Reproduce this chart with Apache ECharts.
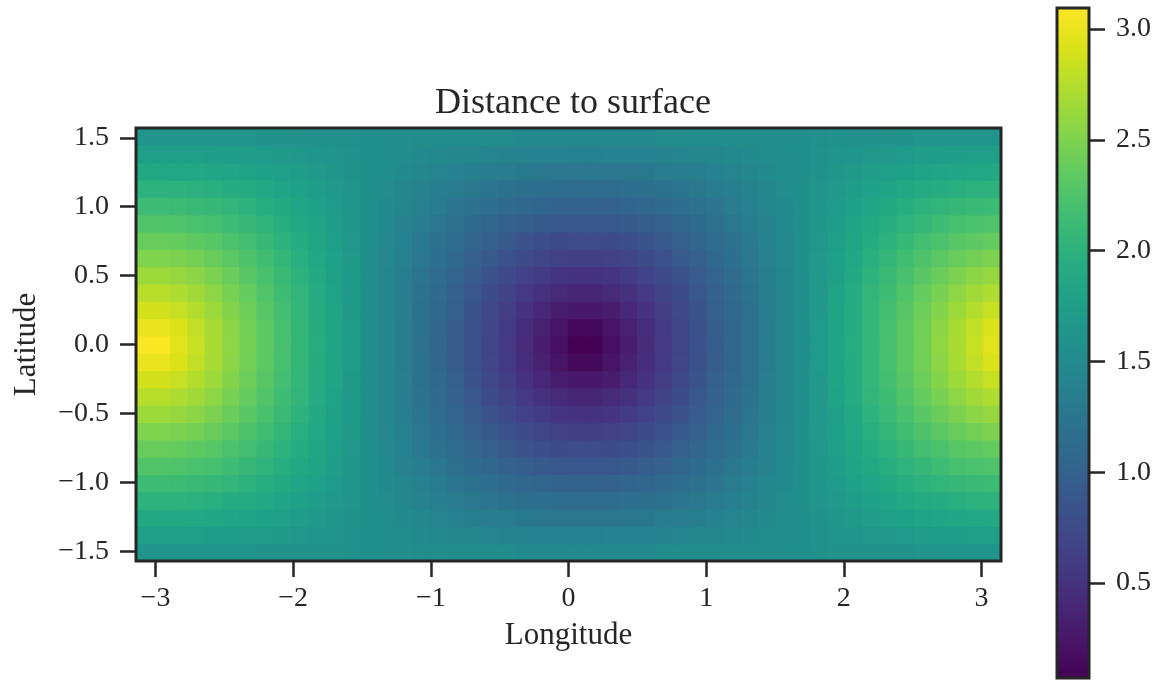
<!DOCTYPE html>
<html>
<head>
<meta charset="utf-8">
<script src="https://cdn.jsdelivr.net/npm/echarts@6/dist/echarts.min.js"></script>
<style>
html,body{margin:0;padding:0;background:#ffffff;}
#chart{width:1162px;height:681px;}
</style>
</head>
<body>
<div id="chart"></div>
<script>
// ---- data ----
const lonCells = [-3.079,-2.953,-2.827,-2.702,-2.576,-2.450,-2.325,-2.199,-2.073,-1.948,-1.822,-1.696,-1.571,-1.445,-1.319,-1.194,-1.068,-0.942,-0.817,-0.691,-0.565,-0.440,-0.314,-0.188,-0.063,0.063,0.188,0.314,0.440,0.565,0.691,0.817,0.942,1.068,1.194,1.319,1.445,1.571,1.696,1.822,1.948,2.073,2.199,2.325,2.450,2.576,2.702,2.827,2.953,3.079];
const latCells = [-1.508,-1.382,-1.257,-1.131,-1.005,-0.880,-0.754,-0.628,-0.503,-0.377,-0.251,-0.126,0,0.126,0.251,0.377,0.503,0.628,0.754,0.880,1.005,1.131,1.257,1.382,1.508];

const lonTicks = [-3,-2,-1,0,1,2,3];
const latTicks = [-1.5,-1,-0.5,0,0.5,1,1.5];
const cbarTicks = [0.5,1,1.5,2,2.5,3];
const colorRange = [0.072, 3.095];

// distance values per latitude band (|lat| index 0 = equator ... 12 = near pole)
const lat0  = [3.08,3.08,2.95,2.83,2.70,2.58,2.45,2.32,2.20,2.07,1.95,1.82,1.70,1.57,1.45,1.32,1.19,1.07,0.94,0.82,0.69,0.57,0.44,0.31,0.19,0.06,0.06,0.19,0.31,0.44,0.57,0.69,0.82,0.94,1.07,1.19,1.32,1.45,1.57,1.70,1.82,1.95,2.07,2.20,2.32,2.45,2.58,2.70,2.83,2.95];
const lat1  = [3.00,3.00,2.92,2.80,2.69,2.56,2.44,2.32,2.19,2.07,1.94,1.82,1.70,1.57,1.45,1.32,1.20,1.07,0.95,0.82,0.70,0.58,0.46,0.34,0.23,0.14,0.14,0.23,0.34,0.46,0.58,0.70,0.82,0.95,1.07,1.20,1.32,1.45,1.57,1.70,1.82,1.94,2.07,2.19,2.32,2.44,2.56,2.69,2.80,2.92];
const lat2  = [2.88,2.88,2.83,2.74,2.64,2.53,2.41,2.30,2.18,2.06,1.94,1.81,1.69,1.57,1.45,1.33,1.21,1.09,0.97,0.85,0.73,0.61,0.50,0.40,0.31,0.26,0.26,0.31,0.40,0.50,0.61,0.73,0.85,0.97,1.09,1.21,1.33,1.45,1.57,1.69,1.81,1.94,2.06,2.18,2.30,2.41,2.53,2.64,2.74,2.83];
const lat3  = [2.76,2.76,2.72,2.66,2.57,2.47,2.37,2.26,2.15,2.04,1.92,1.80,1.69,1.57,1.45,1.34,1.22,1.11,0.99,0.88,0.77,0.67,0.57,0.49,0.42,0.38,0.38,0.42,0.49,0.57,0.67,0.77,0.88,0.99,1.11,1.22,1.34,1.45,1.57,1.69,1.80,1.92,2.04,2.15,2.26,2.37,2.47,2.57,2.66,2.72];
const lat4  = [2.64,2.64,2.61,2.56,2.49,2.40,2.31,2.21,2.11,2.01,1.90,1.79,1.68,1.57,1.46,1.35,1.24,1.13,1.03,0.93,0.83,0.74,0.66,0.59,0.53,0.51,0.51,0.53,0.59,0.66,0.74,0.83,0.93,1.03,1.13,1.24,1.35,1.46,1.57,1.68,1.79,1.90,2.01,2.11,2.21,2.31,2.40,2.49,2.56,2.61];
const lat5  = [2.51,2.51,2.49,2.45,2.39,2.32,2.24,2.16,2.07,1.97,1.87,1.77,1.67,1.57,1.47,1.37,1.27,1.17,1.08,0.98,0.90,0.82,0.75,0.69,0.65,0.63,0.63,0.65,0.69,0.75,0.82,0.90,0.98,1.08,1.17,1.27,1.37,1.47,1.57,1.67,1.77,1.87,1.97,2.07,2.16,2.24,2.32,2.39,2.45,2.49];
const lat6  = [2.39,2.39,2.37,2.34,2.29,2.23,2.17,2.09,2.01,1.93,1.84,1.75,1.66,1.57,1.48,1.39,1.30,1.21,1.13,1.05,0.97,0.91,0.85,0.80,0.77,0.76,0.76,0.77,0.80,0.85,0.91,0.97,1.05,1.13,1.21,1.30,1.39,1.48,1.57,1.66,1.75,1.84,1.93,2.01,2.09,2.17,2.23,2.29,2.34,2.37];
const lat7  = [2.26,2.26,2.25,2.22,2.19,2.14,2.08,2.02,1.95,1.88,1.81,1.73,1.65,1.57,1.49,1.41,1.33,1.26,1.19,1.12,1.06,1.00,0.96,0.92,0.89,0.88,0.88,0.89,0.92,0.96,1.00,1.06,1.12,1.19,1.26,1.33,1.41,1.49,1.57,1.65,1.73,1.81,1.88,1.95,2.02,2.08,2.14,2.19,2.22,2.25];
const lat8  = [2.14,2.14,2.13,2.11,2.08,2.04,2.00,1.95,1.89,1.83,1.77,1.70,1.64,1.57,1.50,1.44,1.37,1.31,1.25,1.20,1.15,1.10,1.06,1.04,1.02,1.01,1.01,1.02,1.04,1.06,1.10,1.15,1.20,1.25,1.31,1.37,1.44,1.50,1.57,1.64,1.70,1.77,1.83,1.89,1.95,2.00,2.04,2.08,2.11,2.13];
const lat9  = [2.01,2.01,2.00,1.99,1.97,1.94,1.91,1.87,1.82,1.78,1.73,1.68,1.62,1.57,1.52,1.46,1.41,1.36,1.32,1.28,1.24,1.20,1.18,1.15,1.14,1.13,1.13,1.14,1.15,1.18,1.20,1.24,1.28,1.32,1.36,1.41,1.46,1.52,1.57,1.62,1.68,1.73,1.78,1.82,1.87,1.91,1.94,1.97,1.99,2.00];
const lat10 = [1.88,1.88,1.88,1.87,1.85,1.83,1.81,1.78,1.75,1.72,1.68,1.65,1.61,1.57,1.53,1.49,1.46,1.42,1.39,1.36,1.33,1.31,1.29,1.27,1.26,1.26,1.26,1.26,1.27,1.29,1.31,1.33,1.36,1.39,1.42,1.46,1.49,1.53,1.57,1.61,1.65,1.68,1.72,1.75,1.78,1.81,1.83,1.85,1.87,1.88];
const lat11 = [1.76,1.76,1.76,1.75,1.74,1.73,1.72,1.70,1.68,1.66,1.64,1.62,1.59,1.57,1.55,1.52,1.50,1.48,1.46,1.44,1.43,1.41,1.40,1.39,1.39,1.38,1.38,1.39,1.39,1.40,1.41,1.43,1.44,1.46,1.48,1.50,1.52,1.55,1.57,1.59,1.62,1.64,1.66,1.68,1.70,1.72,1.73,1.74,1.75,1.76];
const lat12 = [1.63,1.63,1.63,1.63,1.63,1.62,1.62,1.61,1.61,1.60,1.59,1.59,1.58,1.57,1.56,1.56,1.55,1.54,1.53,1.53,1.52,1.52,1.51,1.51,1.51,1.51,1.51,1.51,1.51,1.51,1.52,1.52,1.53,1.53,1.54,1.55,1.56,1.56,1.57,1.58,1.59,1.59,1.60,1.61,1.61,1.62,1.62,1.63,1.63,1.63];

// rows from south (latCells[0]) to north (latCells[24])
const distRows = [lat12,lat11,lat10,lat9,lat8,lat7,lat6,lat5,lat4,lat3,lat2,lat1,lat0,lat1,lat2,lat3,lat4,lat5,lat6,lat7,lat8,lat9,lat10,lat11,lat12];

const viridis = ['#440154','#48186a','#472d7b','#424086','#3b528b','#33638d','#2c728e','#26828e','#21918c','#1fa088','#28ae80','#3fbc73','#5ec962','#84d44b','#addc30','#d8e219','#fde725'];

// ---- build chart ----
const cellData = [];
for (let j = 0; j < latCells.length; j++) {
  for (let i = 0; i < lonCells.length; i++) {
    cellData.push([lonCells[i], latCells[j], distRows[j][i]]);
  }
}
const halfLon = (lonCells[1] - lonCells[0]) / 2;
const halfLat = (latCells[1] - latCells[0]) / 2;

const ink = '#262626';
const font = "'Liberation Serif', 'Times New Roman', serif";
const minus = v => (v < 0 ? '\u2212' : '') + Math.abs(v);
const minus1 = v => (v < 0 ? '\u2212' : '') + Math.abs(v).toFixed(1);
const labelStyle = { fontFamily: font, fontSize: 28, color: ink };
const tickStyle = { color: ink, width: 2.5 };

const chart = echarts.init(document.getElementById('chart'), null, { renderer: 'canvas' });
chart.setOption({
  animation: false,
  backgroundColor: '#ffffff',
  title: {
    text: 'Distance to surface',
    left: 568, top: 81, textAlign: 'center',
    textStyle: { fontFamily: font, fontSize: 36, fontWeight: 'normal', color: ink }
  },
  grid: [
    { left: 136, top: 128, right: 161, bottom: 120, show: true, z: 10,
      backgroundColor: 'transparent', borderColor: ink, borderWidth: 3 },
    { left: 1057, top: 8, width: 32, height: 670, show: true, z: 10,
      backgroundColor: 'transparent', borderColor: ink, borderWidth: 3 }
  ],
  xAxis: [
    { type: 'value', gridIndex: 0, position: 'bottom', min: -3.14159, max: 3.14159, z: 12,
      axisLine: { show: false, onZero: false }, splitLine: { show: false },
      axisTick: { show: true, customValues: lonTicks, length: 16, lineStyle: tickStyle },
      axisLabel: Object.assign({ customValues: lonTicks, formatter: minus, margin: 24 }, labelStyle),
      name: 'Longitude', nameLocation: 'middle', nameGap: 59,
      nameTextStyle: { fontFamily: font, fontSize: 31, color: ink } },
    { type: 'category', gridIndex: 1, data: ['cb'], show: false }
  ],
  yAxis: [
    { type: 'value', gridIndex: 0, position: 'left', min: -1.5708, max: 1.5708, z: 12,
      axisLine: { show: false, onZero: false }, splitLine: { show: false },
      axisTick: { show: true, customValues: latTicks, length: 16, lineStyle: tickStyle },
      axisLabel: Object.assign({ customValues: latTicks, formatter: minus1, margin: 27 }, labelStyle),
      name: 'Latitude', nameLocation: 'middle', nameGap: 94,
      nameTextStyle: { fontFamily: font, fontSize: 31, color: ink } },
    { type: 'value', gridIndex: 1, position: 'right', min: colorRange[0], max: colorRange[1], z: 12,
      axisLine: { show: false, onZero: false }, splitLine: { show: false },
      axisTick: { show: true, customValues: cbarTicks, length: 16, lineStyle: tickStyle },
      axisLabel: Object.assign({ customValues: cbarTicks, formatter: v => v.toFixed(1), margin: 27 }, labelStyle) }
  ],
  visualMap: {
    type: 'continuous', show: false, dimension: 2, seriesIndex: 0,
    min: colorRange[0], max: colorRange[1],
    inRange: { color: viridis }
  },
  series: [
    { type: 'custom', xAxisIndex: 0, yAxisIndex: 0, data: cellData, silent: true, clip: true,
      encode: { x: 0, y: 1 }, progressive: 0,
      renderItem: (params, api) => {
        const lon = api.value(0), lat = api.value(1);
        const p0 = api.coord([lon - halfLon, lat + halfLat]);
        const p1 = api.coord([lon + halfLon, lat - halfLat]);
        return {
          type: 'rect',
          shape: { x: p0[0] - 0.6, y: p0[1] - 0.6, width: p1[0] - p0[0] + 1.2, height: p1[1] - p0[1] + 1.2 },
          style: { fill: api.visual('color'), stroke: null }
        };
      } },
    { type: 'bar', xAxisIndex: 1, yAxisIndex: 1, stack: 'cbar', barWidth: '100%', silent: true,
      data: [colorRange[0]], itemStyle: { color: 'rgba(0,0,0,0)' } },
    { type: 'bar', xAxisIndex: 1, yAxisIndex: 1, stack: 'cbar', barWidth: '100%', silent: true,
      data: [colorRange[1] - colorRange[0]],
      itemStyle: { color: { type: 'linear', x: 0, y: 1, x2: 0, y2: 0,
        colorStops: viridis.map((c, k) => ({ offset: k / (viridis.length - 1), color: c })) } } }
  ]
});
</script>
</body>
</html>
